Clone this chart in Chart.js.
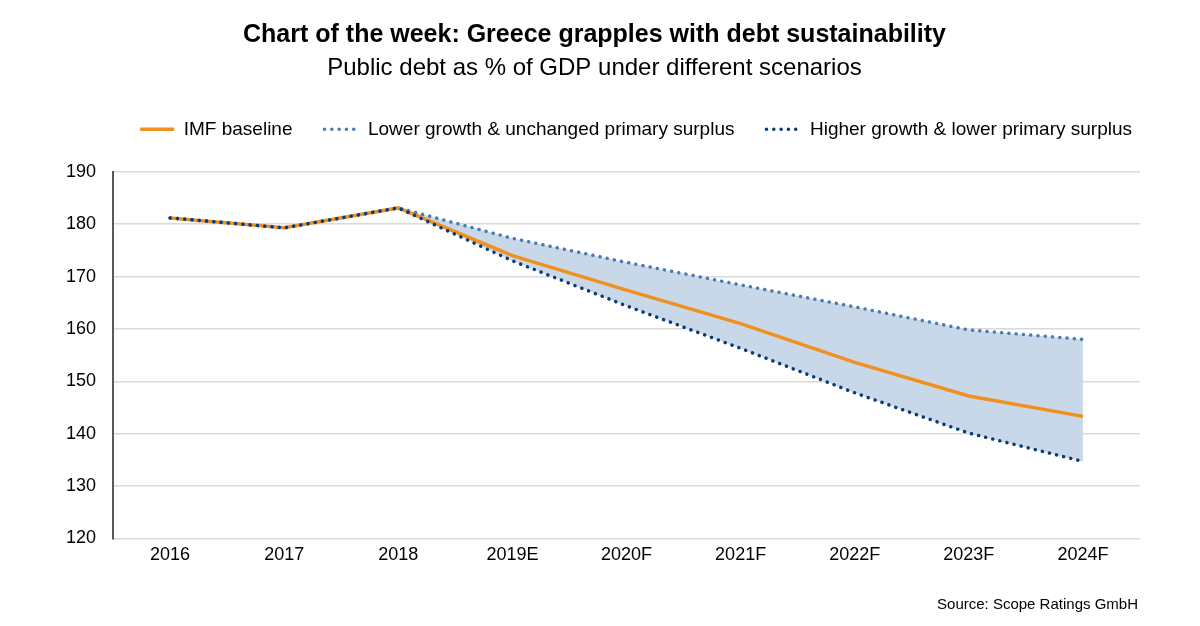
<!DOCTYPE html>
<html>
<head>
<meta charset="utf-8">
<script src="https://cdn.jsdelivr.net/npm/chart.js@4/dist/chart.umd.min.js"></script>
<style>
    html, body { margin: 0; padding: 0; background: #fff; }
    #wrap { position: relative; width: 1200px; height: 626px; }
    #source {
        position: absolute; right: 62px; top: 595px;
        font: 15px "Liberation Sans", Arial, sans-serif; color: #000;
    }
</style>
</head>
<body>
<div id="wrap">
    <canvas id="debtChart" width="1200" height="626"></canvas>
    <div id="source">Source: Scope Ratings GmbH</div>
</div>
<script>
// Chart data
const years = ['2016', '2017', '2018', '2019E', '2020F', '2021F', '2022F', '2023F', '2024F'];
const imfBaseline = [181.2, 179.3, 183.1, 174.0, 167.4, 161.0, 153.6, 147.2, 143.3];
const lowerGrowth = [181.2, 179.3, 183.1, 177.3, 172.7, 168.4, 164.2, 159.8, 158.0];
const higherGrowth = [181.2, 179.3, 183.1, 173.0, 164.4, 156.3, 147.8, 140.1, 134.7];
const yTicks = [120, 130, 140, 150, 160, 170, 180, 190];

const fontFamily = '"Liberation Sans", Arial, sans-serif';

// Push the plot area down below the legend, nudge legend right
const legendGap = {
    id: 'legendGap',
    beforeInit(chart) {
        const fit = chart.legend.fit;
        chart.legend.fit = function () {
            fit.bind(chart.legend)();
            this.height += 23;
        };
    },
    afterLayout(chart) {
        chart.legend.left += 24;
        chart.legend.right += 24;
    }
};

// Legend items keep the dataset dash pattern
function legendLabels(chart) {
    const items = Chart.defaults.plugins.legend.labels.generateLabels(chart);
    items.forEach(item => {
        const ds = chart.data.datasets[item.datasetIndex];
        item.lineDash = ds.borderDash || [];
        item.lineCap = ds.borderCapStyle || 'butt';
        item.lineWidth = ds.borderWidth;
        item.strokeStyle = ds.borderColor;
    });
    return items.sort((a, b) => a.datasetIndex - b.datasetIndex);
}

// Initialize chart
function initChart() {
    const ctx = document.getElementById('debtChart').getContext('2d');
    new Chart(ctx, {
        type: 'line',
        plugins: [legendGap],
        data: {
            labels: years,
            datasets: [
                {
                    label: 'IMF baseline',
                    data: imfBaseline,
                    borderColor: '#F0901E',
                    borderWidth: 3.5,
                    pointRadius: 0,
                    fill: false,
                    order: 3
                },
                {
                    label: 'Lower growth & unchanged primary surplus',
                    data: lowerGrowth,
                    borderColor: '#4A7BB0',
                    borderWidth: 3.5,
                    borderDash: [0.1, 7.2],
                    borderCapStyle: 'round',
                    pointRadius: 0,
                    fill: { target: 2 },
                    backgroundColor: 'rgb(200, 216, 233)',
                    order: 2
                },
                {
                    label: 'Higher growth & lower primary surplus',
                    data: higherGrowth,
                    borderColor: '#083B78',
                    borderWidth: 3.5,
                    borderDash: [0.1, 7.2],
                    borderCapStyle: 'round',
                    pointRadius: 0,
                    fill: false,
                    order: 1
                }
            ]
        },
        options: {
            responsive: false,
            animation: false,
            layout: { padding: { left: 49, right: 60, top: 10, bottom: 54 } },
            plugins: {
                filler: { drawTime: 'beforeDatasetsDraw' },
                title: {
                    display: true,
                    text: 'Chart of the week: Greece grapples with debt sustainability',
                    color: '#000',
                    font: { family: fontFamily, size: 25, weight: 'bold' },
                    padding: { top: 10, bottom: 4 }
                },
                subtitle: {
                    display: true,
                    text: 'Public debt as % of GDP under different scenarios',
                    color: '#000',
                    font: { family: fontFamily, size: 24 },
                    padding: { bottom: 5 }
                },
                legend: {
                    position: 'top',
                    align: 'end',
                    labels: {
                        usePointStyle: true,
                        pointStyle: 'line',
                        pointStyleWidth: 34,
                        boxHeight: 10,
                        padding: 32,
                        color: '#000',
                        font: { family: fontFamily, size: 19 },
                        generateLabels: legendLabels
                    }
                },
                tooltip: { enabled: false }
            },
            scales: {
                x: {
                    offset: true,
                    grid: { display: false, drawTicks: false },
                    border: { display: false },
                    ticks: {
                        color: '#000',
                        font: { family: fontFamily, size: 18 },
                        padding: 6,
                        maxRotation: 0
                    }
                },
                y: {
                    min: 120,
                    max: 190,
                    afterBuildTicks: axis => {
                        axis.ticks = yTicks.map(v => ({ value: v }));
                    },
                    grid: { color: '#D9D9D9', lineWidth: 1.5, drawTicks: false },
                    border: { display: true, color: '#595959', width: 2 },
                    ticks: {
                        color: '#000',
                        font: { family: fontFamily, size: 18 },
                        padding: 17
                    }
                }
            }
        }
    });
}

document.addEventListener('DOMContentLoaded', initChart);
</script>
</body>
</html>
